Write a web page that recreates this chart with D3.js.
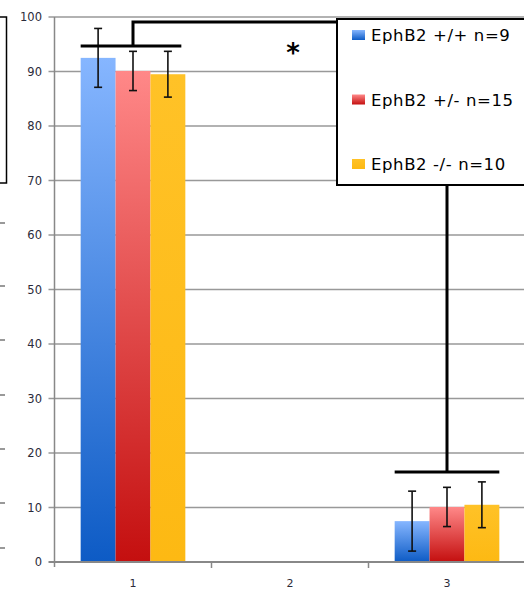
<!DOCTYPE html>
<html>
<head>
<meta charset="utf-8">
<script src="https://cdn.jsdelivr.net/npm/d3@7"></script>
<style>
body { margin: 0; background: #fff; }
svg { display: block; }
</style>
</head>
<body>
<svg width="524" height="590"></svg>
<script>
/* data */
var categories = ["1", "2", "3"];
var genotypes = ["EphB2 +/+ n=9", "EphB2 +/- n=15", "EphB2 -/- n=10"];
var wtMeans  = [92.5, null, 7.5];
var wtErr    = [5.4, null, 5.5];
var hetMeans = [90.1, null, 10.1];
var hetErr   = [3.6, null, 3.6];
var koMeans  = [89.5, null, 10.5];
var koErr    = [4.2, null, 4.2];
var yTicks = [0, 10, 20, 30, 40, 50, 60, 70, 80, 90, 100];

/* significance bracket levels (in % units) */
var bracketLow = [94.7, null, 16.5];
var bracketTop = 99.1;

var series = [
  {name: genotypes[0], means: wtMeans, err: wtErr, id: "gBlue"},
  {name: genotypes[1], means: hetMeans, err: hetErr, id: "gRed"},
  {name: genotypes[2], means: koMeans, err: koErr, id: "gYellow"}
];

var svg = d3.select("svg"),
    plotL = 54.5, plotR = 525.5, plotT = 17, plotB = 562;

var x = d3.scaleBand().domain(categories).range([plotL, plotR]);
var barW = x.bandwidth() / 4.5;
var xs = d3.scaleBand().domain(genotypes).range([0, barW * 3]);
var pad = (x.bandwidth() - barW * 3) / 2;

var y = d3.scaleLinear().domain([0, 100]).range([plotB, plotT]);

/* gradients like the excel fill */
var defs = svg.append("defs");
var grads = [
  {id: "gBlue", c0: "#86b6ff", c1: "#0d5bc5"},
  {id: "gRed", c0: "#ff8888", c1: "#c40f0f"},
  {id: "gYellow", c0: "#ffc227", c1: "#fdb913"}
];
grads.forEach(function(g) {
  var lgr = defs.append("linearGradient").attr("id", g.id)
      .attr("x1", 0).attr("y1", 0).attr("x2", 0).attr("y2", 1);
  lgr.append("stop").attr("offset", "0%").attr("stop-color", g.c0);
  lgr.append("stop").attr("offset", "100%").attr("stop-color", g.c1);
});

/* cut-off neighbour chart on the left edge */
svg.append("rect")
    .attr("x", -2).attr("y", 17).attr("width", 8.5).attr("height", 166)
    .attr("fill", "none").attr("stroke", "#000").attr("stroke-width", 1.5);
svg.append("g").selectAll("line")
    .data([223, 286, 340, 395, 449, 503, 548])
  .enter().append("line")
    .attr("x1", 0).attr("x2", 5).attr("y1", function(d) { return d; }).attr("y2", function(d) { return d; })
    .attr("stroke", "#777").attr("stroke-width", 1.5);

/* gridlines + y ticks */
svg.append("g").selectAll("line")
    .data(yTicks.filter(function(d) { return d > 0; }))
  .enter().append("line")
    .attr("x1", plotL - 6).attr("x2", plotR)
    .attr("y1", function(d) { return y(d); }).attr("y2", function(d) { return y(d); })
    .attr("stroke", "#999").attr("stroke-width", 1.5);

svg.append("g").selectAll("text")
    .data(yTicks)
  .enter().append("text")
    .attr("x", 42).attr("y", function(d) { return y(d) + 4; })
    .attr("text-anchor", "end")
    .attr("font-family", "DejaVu Sans").attr("font-size", "11.5px")
    .attr("fill", "#2b2b3a")
    .text(function(d) { return d; });

/* bars */
var groups = svg.append("g").selectAll("g")
    .data(series)
  .enter().append("g");

groups.selectAll("rect")
    .data(function(s) {
      return categories.map(function(c, i) { return {c: c, v: s.means[i], id: s.id, name: s.name}; })
        .filter(function(d) { return d.v != null; });
    })
  .enter().append("rect")
    .attr("x", function(d) { return x(d.c) + pad + xs(d.name); })
    .attr("y", function(d) { return y(d.v); })
    .attr("width", barW)
    .attr("height", function(d) { return y(0) - y(d.v); })
    .attr("fill", function(d) { return "url(#" + d.id + ")"; });

/* error bars */
var eb = groups.selectAll("g.eb")
    .data(function(s) {
      return categories.map(function(c, i) { return {c: c, v: s.means[i], e: s.err[i], name: s.name}; })
        .filter(function(d) { return d.v != null; });
    })
  .enter().append("g").attr("class", "eb")
    .attr("stroke", "#111").attr("stroke-width", 1.6);

function cx(d) { return x(d.c) + pad + xs(d.name) + barW / 2; }
eb.append("line")
    .attr("x1", cx).attr("x2", cx)
    .attr("y1", function(d) { return y(d.v + d.e); })
    .attr("y2", function(d) { return y(d.v - d.e); });
eb.append("line")
    .attr("x1", function(d) { return cx(d) - 4; }).attr("x2", function(d) { return cx(d) + 4; })
    .attr("y1", function(d) { return y(d.v + d.e); }).attr("y2", function(d) { return y(d.v + d.e); });
eb.append("line")
    .attr("x1", function(d) { return cx(d) - 4; }).attr("x2", function(d) { return cx(d) + 4; })
    .attr("y1", function(d) { return y(d.v - d.e); }).attr("y2", function(d) { return y(d.v - d.e); });

/* axes */
svg.append("line")
    .attr("x1", plotL).attr("x2", plotL).attr("y1", plotT).attr("y2", plotB + 5)
    .attr("stroke", "#888").attr("stroke-width", 1.5);
svg.append("line")
    .attr("x1", plotL - 6).attr("x2", plotR).attr("y1", plotB).attr("y2", plotB)
    .attr("stroke", "#888").attr("stroke-width", 2);
svg.append("g").selectAll("line")
    .data(categories.slice(1))
  .enter().append("line")
    .attr("x1", function(d) { return x(d); }).attr("x2", function(d) { return x(d); })
    .attr("y1", plotB).attr("y2", plotB + 6)
    .attr("stroke", "#888").attr("stroke-width", 1.5);
svg.append("g").selectAll("text")
    .data(categories)
  .enter().append("text")
    .attr("x", function(d) { return x(d) + x.bandwidth() / 2; })
    .attr("y", 587)
    .attr("text-anchor", "middle")
    .attr("font-family", "DejaVu Sans").attr("font-size", "11px")
    .attr("fill", "#2b2b3a")
    .text(function(d) { return d; });

/* significance brackets */
var lgX = 337, lgY = 19, lgH = 166;
var br = svg.append("g").attr("stroke", "#000").attr("stroke-width", 3).attr("fill", "none");
var c1 = x("1") + x.bandwidth() / 2, c3 = x("3") + x.bandwidth() / 2;
br.append("line")
    .attr("x1", x("1") + pad).attr("x2", x("1") + pad + barW * 3 - 4)
    .attr("y1", y(bracketLow[0])).attr("y2", y(bracketLow[0]));
br.append("path")
    .attr("d", "M" + c1 + "," + y(bracketLow[0]) + "V" + y(bracketTop) + "H" + lgX);
br.append("line")
    .attr("x1", x("3") + pad).attr("x2", x("3") + pad + barW * 3)
    .attr("y1", y(bracketLow[2])).attr("y2", y(bracketLow[2]));
br.append("line")
    .attr("x1", c3).attr("x2", c3)
    .attr("y1", y(bracketLow[2])).attr("y2", lgY + lgH);

svg.append("text")
    .attr("x", 293).attr("y", 62)
    .attr("text-anchor", "middle")
    .attr("font-family", "DejaVu Sans").attr("font-weight", "bold").attr("font-size", "26px")
    .text("*");

/* legend */
var lg = svg.append("g");
lg.append("rect")
    .attr("x", lgX).attr("y", lgY).attr("width", 200).attr("height", lgH)
    .attr("fill", "#fff").attr("stroke", "#000").attr("stroke-width", 2);
var item = lg.selectAll("g")
    .data(series)
  .enter().append("g")
    .attr("transform", function(d, i) { return "translate(" + (lgX + 15) + "," + (35 + i * 64.5) + ")"; });
item.append("rect")
    .attr("x", 0).attr("y", -5).attr("width", 13).attr("height", 10)
    .attr("fill", function(d) { return "url(#" + d.id + ")"; });
item.append("text")
    .attr("x", 19).attr("y", 6)
    .attr("font-family", "DejaVu Sans").attr("font-size", "16.5px")
    .attr("letter-spacing", "0.6px")
    .attr("fill", "#000")
    .text(function(d) { return d.name; });
</script>
</body>
</html>
